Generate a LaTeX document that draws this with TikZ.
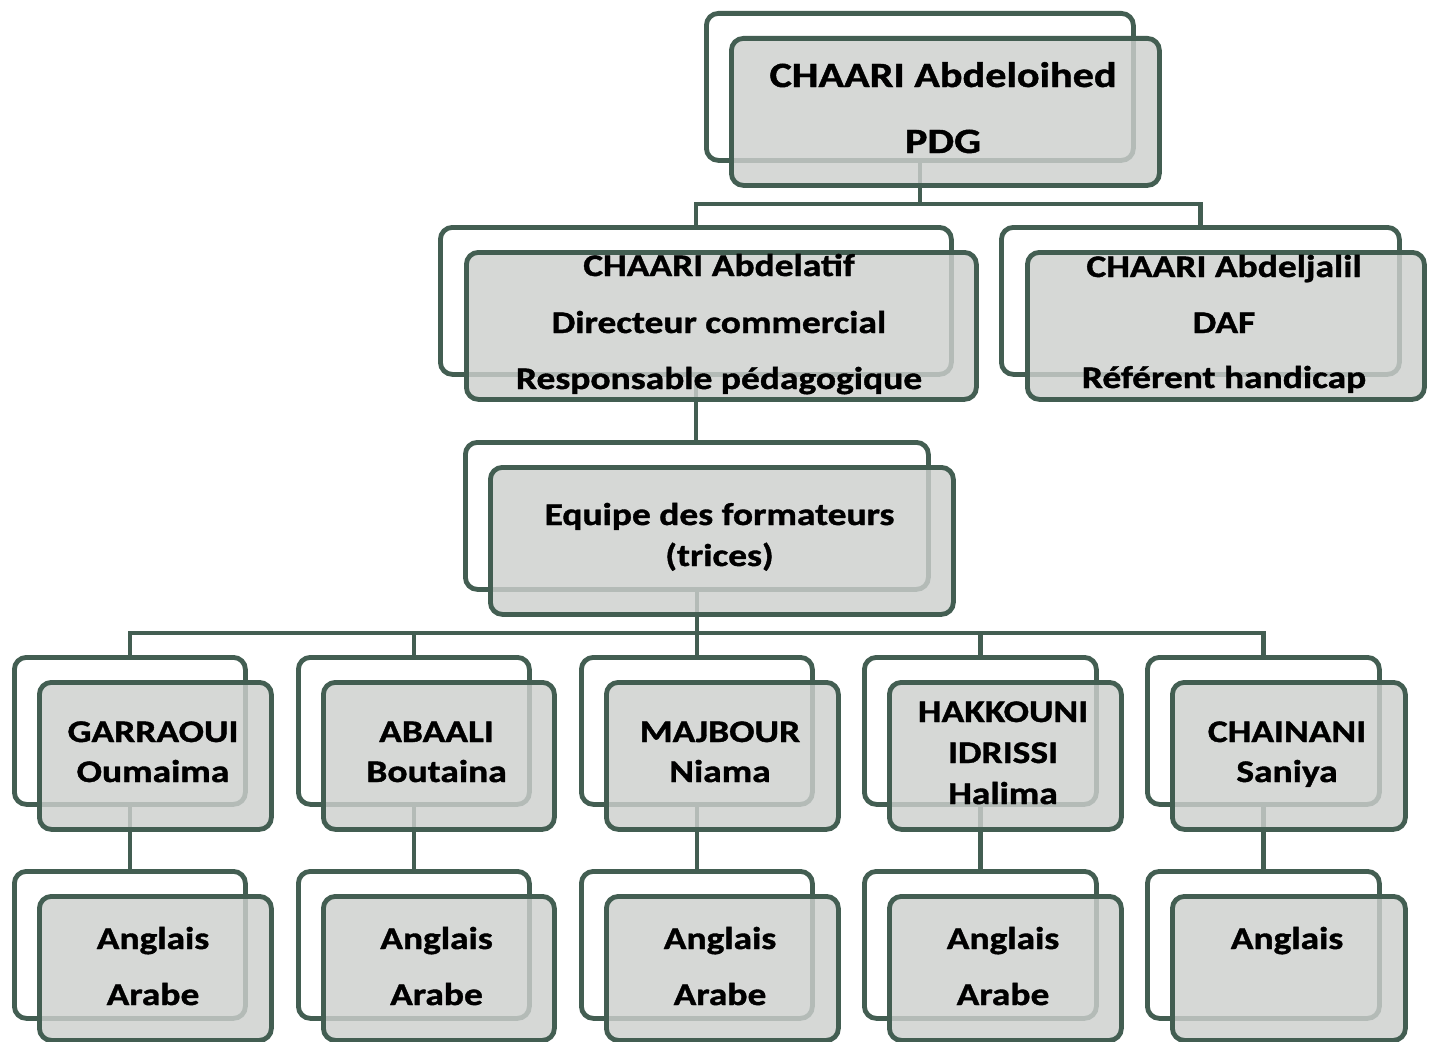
\documentclass[tikz,border=0pt]{standalone}
\usepackage{fontspec}
\setmainfont{Carlito}
\newfontfamily\widefont{Carlito}[FakeStretch=1.19, BoldFeatures={FakeBold=1.2}]
\definecolor{edge}{RGB}{67,94,82}
\definecolor{frontfill}{RGB}{205,208,206}
\tikzset{
  bk/.style={draw=edge, line width=4.8pt, rounded corners=12pt, fill=white, inner sep=0pt, anchor=north west, minimum height=147pt},
  fr/.style={draw=edge, line width=4.8pt, rounded corners=12pt, fill=frontfill, fill opacity=0.82, inner sep=0pt, anchor=north west, minimum height=147pt},
  link/.style={draw=edge, line width=4.8pt},
  txt/.style={anchor=base, inner sep=0pt, font=\widefont\bfseries\fontsize{31.5}{36}\selectfont},
  txtbig/.style={anchor=base, inner sep=0pt, font=\widefont\bfseries\fontsize{35.5}{40}\selectfont},
}
\begin{document}
\begin{tikzpicture}[x=1pt, y=-1pt]
\useasboundingbox (0,0) rectangle (1431,1041);
\fill[white] (0,0) rectangle (1431,1041);
% back boxes
\node[bk, minimum width=427pt] (b1) at (704,11) {};
\node[bk, minimum width=511pt] (b2) at (438,225) {};
\node[bk, minimum width=398pt] (b3) at (999,225) {};
\node[bk, minimum width=463pt] (b4) at (463,440) {};
\node[bk, minimum width=231pt] (b5) at (12,655) {};
\node[bk, minimum width=231pt] (b6) at (296,655) {};
\node[bk, minimum width=231pt] (b7) at (579,655) {};
\node[bk, minimum width=232pt] (b8) at (862,655) {};
\node[bk, minimum width=232pt] (b9) at (1145,655) {};
\node[bk, minimum width=231pt] (c5) at (12,869) {};
\node[bk, minimum width=231pt] (c6) at (296,869) {};
\node[bk, minimum width=231pt] (c7) at (579,869) {};
\node[bk, minimum width=232pt] (c8) at (862,869) {};
\node[bk, minimum width=232pt] (c9) at (1145,869) {};
% buses
\coordinate (bus1) at (0,204);
\coordinate (bus2) at (0,633);
% connectors
\draw[link] (b1.south) -- (b1.south |- bus1);
\draw[link] (b2.north) -- (b2.north |- bus1) -- (b3.north |- bus1) -- (b3.north);
\draw[link] (b2.south) -- (b2.south |- b4.north);
\draw[link] (b4.south) -- (b4.south |- bus2);
\draw[link] (b5.north) -- (b5.north |- bus2) -- (b9.north |- bus2) -- (b9.north);
\draw[link] (b6.north) -- (b6.north |- bus2);
\draw[link] (b7.north) -- (b7.north |- bus2);
\draw[link] (b8.north) -- (b8.north |- bus2);
\draw[link] (b5.south) -- (c5.north);
\draw[link] (b6.south) -- (c6.north);
\draw[link] (b7.south) -- (c7.north);
\draw[link] (b8.south) -- (c8.north);
\draw[link] (b9.south) -- (c9.north);
% front boxes
\node[fr, minimum width=428pt] (f1) at (729,36) {};
\node[fr, minimum width=510pt] (f2) at (464,250) {};
\node[fr, minimum width=397pt] (f3) at (1025,250) {};
\node[fr, minimum width=463pt] (f4) at (488,465) {};
\node[fr, minimum width=232pt] (f5) at (37,680) {};
\node[fr, minimum width=231pt] (f6) at (321,680) {};
\node[fr, minimum width=232pt] (f7) at (604,680) {};
\node[fr, minimum width=232pt] (f8) at (887,680) {};
\node[fr, minimum width=233pt] (f9) at (1170,680) {};
\node[fr, minimum width=232pt, minimum height=144pt] (g5) at (37,894) {};
\node[fr, minimum width=231pt, minimum height=144pt] (g6) at (321,894) {};
\node[fr, minimum width=232pt, minimum height=144pt] (g7) at (604,894) {};
\node[fr, minimum width=232pt, minimum height=144pt] (g8) at (887,894) {};
\node[fr, minimum width=233pt, minimum height=144pt] (g9) at (1170,894) {};
% texts
\node[txtbig] (t1a) at (943,87) {CHAARI Abdeloihed};
\node[txtbig] (t1b) at (943,153) {PDG};
\node[txt] (t2a) at (719,276) {CHAARI Abdelatif};
\node[txt] (t2b) at (719,333) {Directeur commercial};
\node[txt] (t2c) at (719,389) {Responsable pédagogique};
\node[txt] (t3a) at (1224,277) {CHAARI Abdeljalil};
\node[txt] (t3b) at (1224,333) {DAF};
\node[txt] (t3c) at (1224,388) {Référent handicap};
\node[txt] (t4a) at (719.5,525) {Equipe des formateurs};
\node[txt] (t4b) at (719.5,566) {(trices)};
\node[txt] (t5a) at (153,742) {GARRAOUI};
\node[txt] (t5b) at (153,782) {Oumaima};
\node[txt] (t6a) at (436.5,742) {ABAALI};
\node[txt] (t6b) at (436.5,782) {Boutaina};
\node[txt] (t7a) at (720,742) {MAJBOUR};
\node[txt] (t7b) at (720,782) {Niama};
\node[txt] (t8a) at (1003,722) {HAKKOUNI};
\node[txt] (t8b) at (1003,763) {IDRISSI};
\node[txt] (t8c) at (1003,804) {Halima};
\node[txt] (t9a) at (1287,742) {CHAINANI};
\node[txt] (t9b) at (1287,782) {Saniya};
\node[txt] (u5a) at (153,949) {Anglais};
\node[txt] (u5b) at (153,1005) {Arabe};
\node[txt] (u6a) at (436.5,949) {Anglais};
\node[txt] (u6b) at (436.5,1005) {Arabe};
\node[txt] (u7a) at (720,949) {Anglais};
\node[txt] (u7b) at (720,1005) {Arabe};
\node[txt] (u8a) at (1003,949) {Anglais};
\node[txt] (u8b) at (1003,1005) {Arabe};
\node[txt] (u9a) at (1287,949) {Anglais};
\end{tikzpicture}
\end{document}
